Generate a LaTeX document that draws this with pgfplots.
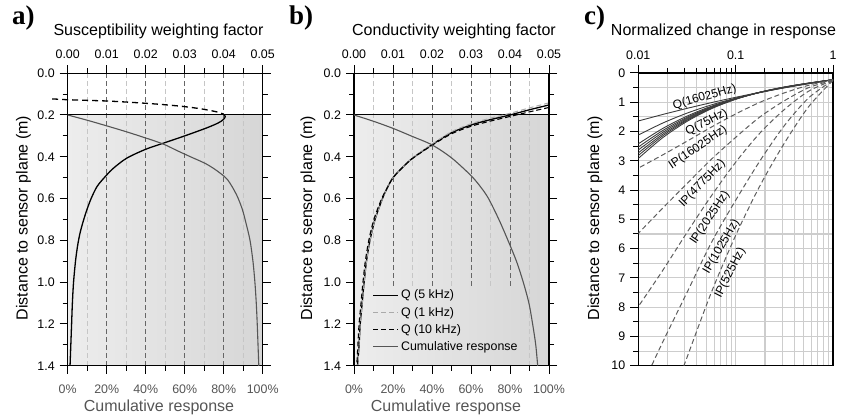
\documentclass[border=0pt]{standalone}
\usepackage{fontspec}
\setmainfont{Liberation Sans}
\newfontfamily\panelfont{Liberation Serif}
\usepackage{pgfplots}
\pgfplotsset{compat=1.18}
\definecolor{cumgray}{HTML}{555555}
\definecolor{majgrid}{HTML}{666666}
\definecolor{mingrid}{HTML}{C6C6C6}
\definecolor{shadeL}{HTML}{EDEDED}
\definecolor{shadeR}{HTML}{D6D6D6}
\definecolor{cgrid}{HTML}{CDCDCD}
\definecolor{qcol}{HTML}{3C3C3C}
\definecolor{ipcol}{HTML}{5E5E5E}
\definecolor{lgray}{HTML}{AAAAAA}
\pgfplotsset{
  panelAB/.style={
    scale only axis, width=195pt, height=292.6pt,
    xmin=0,xmax=0.05,ymin=0,ymax=1.4,y dir=reverse,
    scaled x ticks=false, scaled y ticks=false,
    axis line style={line width=1.1pt},
    tick style={black,line width=1pt},
    major tick length=8pt, minor tick length=5pt,
    tick align=outside, axis on top,
    xtick={0,0.01,0.02,0.03,0.04,0.05},
    xticklabels={0.00,0.01,0.02,0.03,0.04,0.05},
    minor xtick={0.005,0.015,0.025,0.035,0.045},
    xtick pos=right, xticklabel pos=right,
    ytick={0,0.2,0.4,0.6,0.8,1.0,1.2,1.4},
    yticklabels={0.0,0.2,0.4,0.6,0.8,1.0,1.2,1.4},
    minor ytick={0.1,0.3,0.5,0.7,0.9,1.1,1.3},
    ytick pos=both, yticklabel pos=left,
    ticklabel style={font=\fontsize{12.4}{14}\selectfont},
    xticklabel style={yshift=3pt},
    yticklabel style={xshift=-1.5pt},
  },
  panelABbot/.style={
    scale only axis, width=195pt, height=292.6pt,
    xmin=0,xmax=100,ymin=0,ymax=1.4,y dir=reverse,
    scaled x ticks=false,
    hide y axis, axis x line*=bottom,
    axis line style={line width=1.1pt,-},
    tick style={black,line width=1pt},
    major tick length=8pt, minor tick length=5pt,
    tick align=outside,
    xtick={0,20,40,60,80,100},
    xticklabels={0\%,20\%,40\%,60\%,80\%,100\%},
    minor xtick={10,30,50,70,90},
    xticklabel style={font=\fontsize{12.4}{14}\selectfont, text=cumgray, yshift=-8pt},
  },
  cumline/.style={cumgray, line width=1.1pt},
}
\begin{document}
\begin{tikzpicture}[x=1pt,y=1pt]
\useasboundingbox (0,0) rectangle (855,419);
% ---------------- panel a ----------------
\begin{axis}[panelAB, at={(67.7pt,53.2pt)}, anchor=south west, clip=false]
\shade[left color=shadeL, right color=shadeR] (axis cs:0,0.2) rectangle (axis cs:0.05,1.4);
\foreach \g in {0.005,0.015,0.025,0.035,0.045}{
  \edef\tmp{\noexpand\draw[mingrid, line width=0.8pt, dash pattern=on 5pt off 3pt] (axis cs:\g,0) -- (axis cs:\g,1.4);}\tmp }
\foreach \g in {0.01,0.02,0.03,0.04,0.05}{
  \edef\tmp{\noexpand\draw[majgrid, line width=0.9pt, dash pattern=on 5pt off 3pt] (axis cs:\g,0) -- (axis cs:\g,1.4);}\tmp }
\draw[black, line width=1pt] (axis cs:0,0.2) -- (axis cs:0.05,0.2);
\addplot[black, line width=1.3pt, dash pattern=on 6pt off 4pt, smooth] coordinates {
(-0.004,0.123) (-0.002,0.125) (0.0,0.127) (0.005,0.13) (0.01,0.133) (0.015,0.138) (0.02,0.144) (0.025,0.151) (0.03,0.16) (0.034,0.17) (0.037,0.18) (0.0392,0.19) (0.0402,0.2)};
\addplot[black, line width=1.3pt, smooth] coordinates {
(0.0402,0.2) (0.0404,0.208) (0.0399,0.222) (0.0386,0.238) (0.0356,0.262) (0.030,0.300) (0.0245,0.335) (0.020,0.364) (0.0151,0.407) (0.0117,0.455) (0.010,0.487) (0.0076,0.54) (0.0060,0.6) (0.0048,0.66) (0.0038,0.72) (0.0031,0.77) (0.0025,0.83) (0.0020,0.9) (0.0015,1.0) (0.0012,1.1) (0.0010,1.2) (0.0008,1.3) (0.0006,1.4)};
\end{axis}
\begin{axis}[panelABbot, at={(67.7pt,53.2pt)}, anchor=south west]
\addplot[cumline, smooth] coordinates {
(0,0.2) (10,0.225) (20,0.252) (30,0.28) (40,0.31) (49,0.339) (56,0.37) (63,0.40) (71,0.434) (77,0.47) (82,0.51) (86.5,0.58) (89.5,0.65) (91.5,0.72) (93.5,0.8) (95,0.9) (96,1.0) (96.7,1.1) (97.2,1.2) (97.6,1.3) (98,1.4)};
\end{axis}
% ---------------- panel b ----------------
\begin{axis}[panelAB, at={(354pt,53.2pt)}, anchor=south west,
  legend style={at={(0.09,0.27)}, anchor=north west, draw=none, fill=none,
    font=\fontsize{12.4}{14}\selectfont, row sep=2.6pt, inner sep=1pt},
  legend cell align=left,
  legend image code/.code={\draw[#1] (0pt,0pt) -- (25pt,0pt);}]
\shade[left color=shadeL, right color=shadeR] (axis cs:0,0.2) rectangle (axis cs:0.05,1.4);
\foreach \g in {0.005,0.015,0.025,0.035}{
  \edef\tmp{\noexpand\draw[mingrid, line width=0.8pt, dash pattern=on 5pt off 3pt] (axis cs:\g,0) -- (axis cs:\g,1.03);}\tmp }
\draw[mingrid, line width=0.8pt, dash pattern=on 5pt off 3pt] (axis cs:0.045,0) -- (axis cs:0.045,1.4);
\foreach \g in {0.01,0.02,0.03,0.04}{
  \edef\tmp{\noexpand\draw[majgrid, line width=0.9pt, dash pattern=on 5pt off 3pt] (axis cs:\g,0) -- (axis cs:\g,1.03);}\tmp }
\draw[black, line width=1pt] (axis cs:0,0.2) -- (axis cs:0.05,0.2);
\addplot[black, line width=1.3pt, smooth] coordinates {
(0.05,0.152) (0.045,0.175) (0.04,0.2) (0.035,0.222) (0.03,0.248) (0.025,0.285) (0.02,0.342) (0.015,0.407) (0.0125,0.45) (0.01,0.5) (0.0085,0.55) (0.0073,0.6) (0.0054,0.7) (0.0041,0.8) (0.0032,0.9) (0.0026,1.0) (0.0021,1.1) (0.0016,1.2) (0.0013,1.3) (0.0009,1.4)};
\addlegendentry{Q (5 kHz)}
\addplot[lgray, line width=1pt, dash pattern=on 5pt off 3pt, smooth] coordinates {
(0.05,0.142) (0.045,0.166) (0.04,0.192) (0.035,0.215) (0.03,0.242) (0.025,0.28) (0.02,0.34) (0.015,0.406) (0.0125,0.45) (0.01,0.5) (0.0085,0.55) (0.0073,0.6) (0.0054,0.7) (0.0041,0.8) (0.0032,0.9) (0.0026,1.0) (0.0021,1.1) (0.0016,1.2) (0.0013,1.3) (0.0010,1.4)};
\addlegendentry{Q (1 kHz)}
\addplot[black, line width=1.1pt, dash pattern=on 5pt off 3pt, smooth] coordinates {
(0.05,0.164) (0.045,0.185) (0.04,0.207) (0.035,0.229) (0.03,0.254) (0.025,0.29) (0.02,0.345) (0.015,0.408) (0.0125,0.45) (0.01,0.5) (0.0085,0.55) (0.0071,0.6) (0.0051,0.7) (0.0038,0.8) (0.0029,0.9) (0.0023,1.0) (0.0018,1.1) (0.0013,1.2) (0.0010,1.3) (0.0007,1.4)};
\addlegendentry{Q (10 kHz)}
\addlegendimage{cumline}
\addlegendentry{Cumulative response}
\end{axis}
\begin{axis}[panelABbot, at={(354pt,53.2pt)}, anchor=south west]
\addplot[cumline, smooth] coordinates {
(0,0.2) (10,0.23) (20,0.264) (30,0.303) (40,0.343) (50,0.405) (60,0.49) (65,0.545) (69,0.6) (74.4,0.702) (79.1,0.803) (83.4,0.902) (86.8,1.0) (89.7,1.1) (91.6,1.2) (93.2,1.3) (94.2,1.4)};
\end{axis}
% ---------------- panel c ----------------
\begin{axis}[scale only axis, width=194.7pt, height=292.7pt, at={(638.3pt,53.3pt)}, anchor=south west,
  xmode=log, xmin=0.01, xmax=1, ymin=0, ymax=10, y dir=reverse,
  xtick={0.01,0.1,1}, xticklabels={0.01,0.1,1},
  minor xtick={0.02,0.03,0.04,0.05,0.06,0.07,0.08,0.09,0.2,0.3,0.4,0.5,0.6,0.7,0.8,0.9},
  ytick={0,1,2,3,4,5,6,7,8,9,10}, yticklabels={0,1,2,3,4,5,6,7,8,9,10},
  minor ytick={0.5,1.5,2.5,3.5,4.5,5.5,6.5,7.5,8.5,9.5},
  xtick pos=right, xticklabel pos=right, ytick pos=left,
  grid=both, major grid style={cgrid, line width=1.1pt}, minor grid style={cgrid, line width=1.1pt},
  axis line style={line width=1.1pt},
  tick style={black,line width=1pt},
  major tick length=8pt, minor tick length=5pt, tick align=outside,
  ticklabel style={font=\fontsize{12.4}{14}\selectfont},
  xticklabel style={yshift=2pt}, yticklabel style={xshift=-1.5pt},
  every axis plot/.append style={smooth}]
% Q curves (solid)
\addplot[qcol, line width=0.9pt] coordinates {(1,0.23) (0.5623,0.361) (0.3162,0.504) (0.1778,0.660) (0.1,0.83) (0.05623,1.013) (0.03162,1.209) (0.01778,1.418) (0.01,1.64)};
\addplot[qcol, line width=0.9pt] coordinates {(1,0.23) (0.5623,0.363) (0.3162,0.506) (0.1778,0.668) (0.1,0.86) (0.05623,1.091) (0.03162,1.372) (0.01778,1.712) (0.01,2.12)};
\addplot[qcol, line width=0.9pt] coordinates {(1,0.23) (0.5623,0.354) (0.3162,0.493) (0.1778,0.660) (0.1,0.87) (0.05623,1.136) (0.03162,1.474) (0.01778,1.897) (0.01,2.42)};
\addplot[qcol, line width=0.9pt] coordinates {(1,0.23) (0.5623,0.354) (0.3162,0.492) (0.1778,0.662) (0.1,0.88) (0.05623,1.160) (0.03162,1.517) (0.01778,1.968) (0.01,2.53)};
\addplot[qcol, line width=0.9pt] coordinates {(1,0.23) (0.5623,0.351) (0.3162,0.489) (0.1778,0.662) (0.1,0.885) (0.05623,1.176) (0.03162,1.553) (0.01778,2.032) (0.01,2.63)};
\addplot[qcol, line width=0.9pt] coordinates {(1,0.23) (0.5623,0.349) (0.3162,0.486) (0.1778,0.660) (0.1,0.89) (0.05623,1.193) (0.03162,1.589) (0.01778,2.094) (0.01,2.73)};
\addplot[qcol, line width=0.9pt] coordinates {(1,0.23) (0.5623,0.346) (0.3162,0.482) (0.1778,0.658) (0.1,0.893) (0.05623,1.207) (0.03162,1.619) (0.01778,2.150) (0.01,2.82)};
\addplot[qcol, line width=0.9pt] coordinates {(1,0.23) (0.5623,0.344) (0.3162,0.479) (0.1778,0.656) (0.1,0.897) (0.05623,1.222) (0.03162,1.654) (0.01778,2.213) (0.01,2.92)};
% IP curves (dashed)
\addplot[ipcol, line width=1pt, dash pattern=on 5pt off 3pt] coordinates {(1,0.23) (0.5623,0.42) (0.3162,0.68) (0.1778,1.0) (0.1,1.4) (0.05623,1.85) (0.03162,2.33) (0.01778,2.8) (0.01,3.25)};
\addplot[ipcol, line width=1pt, dash pattern=on 5pt off 3pt] coordinates {(1,0.25) (0.5623,0.5) (0.3162,0.95) (0.1778,1.5) (0.1,2.2) (0.05623,2.95) (0.03162,3.78) (0.01778,4.62) (0.01,5.48)};
\addplot[ipcol, line width=1pt, dash pattern=on 5pt off 3pt] coordinates {(1,0.25) (0.5623,0.62) (0.3162,1.25) (0.1778,2.05) (0.1,3.05) (0.05623,4.2) (0.03162,5.45) (0.01778,6.75) (0.01,7.98)};
\addplot[ipcol, line width=1pt, dash pattern=on 5pt off 3pt] coordinates {(1,0.25) (0.5623,0.85) (0.3162,1.8) (0.1778,3.0) (0.1,4.35) (0.05623,5.8) (0.03162,7.5) (0.01778,9.2) (0.0137,10)};
\addplot[ipcol, line width=1pt, dash pattern=on 5pt off 3pt] coordinates {(1,0.25) (0.5623,1.15) (0.3162,2.4) (0.1778,3.85) (0.1,5.55) (0.05623,7.5) (0.03162,9.72) (0.0294,10)};
\begin{scope}[every node/.style={font=\fontsize{12}{13}\selectfont, inner sep=0pt}]
\node[rotate=16] at (axis cs:0.048,0.83) {Q(16025Hz)};
\node[rotate=27] at (axis cs:0.0505,1.70) {Q(75Hz)};
\node[rotate=34] at (axis cs:0.041,2.55) {IP(16025Hz)};
\node[rotate=46] at (axis cs:0.0455,3.78) {IP(4775Hz)};
\node[rotate=56] at (axis cs:0.0545,4.95) {IP(2025Hz)};
\node[rotate=60] at (axis cs:0.0715,5.94) {IP(1025Hz)};
\node[rotate=63] at (axis cs:0.088,6.83) {IP(525Hz)};
\end{scope}
\end{axis}
% ---------------- texts ----------------
\node[anchor=west, font=\panelfont\bfseries\fontsize{27}{27}\selectfont, inner sep=0pt] at (12,401) {a)};
\node[anchor=west, font=\panelfont\bfseries\fontsize{27}{27}\selectfont, inner sep=0pt] at (289,401) {b)};
\node[anchor=west, font=\panelfont\bfseries\fontsize{27}{27}\selectfont, inner sep=0pt] at (584,401) {c)};
\begin{scope}[every node/.style={font=\fontsize{16}{18}\selectfont, inner sep=0pt}]
\node at (158.5,388) {Susceptibility weighting factor};
\node at (454,388) {Conductivity weighting factor};
\node at (723.5,388) {Normalized change in response};
\node[text=cumgray] at (159,12) {Cumulative response};
\node[text=cumgray] at (446,12) {Cumulative response};
\node[rotate=90] at (23.5,201) {Distance to sensor plane (m)};
\node[rotate=90] at (308,201) {Distance to sensor plane (m)};
\node[rotate=90] at (595,201) {Distance to sensor plane (m)};
\end{scope}
\end{tikzpicture}
\end{document}
